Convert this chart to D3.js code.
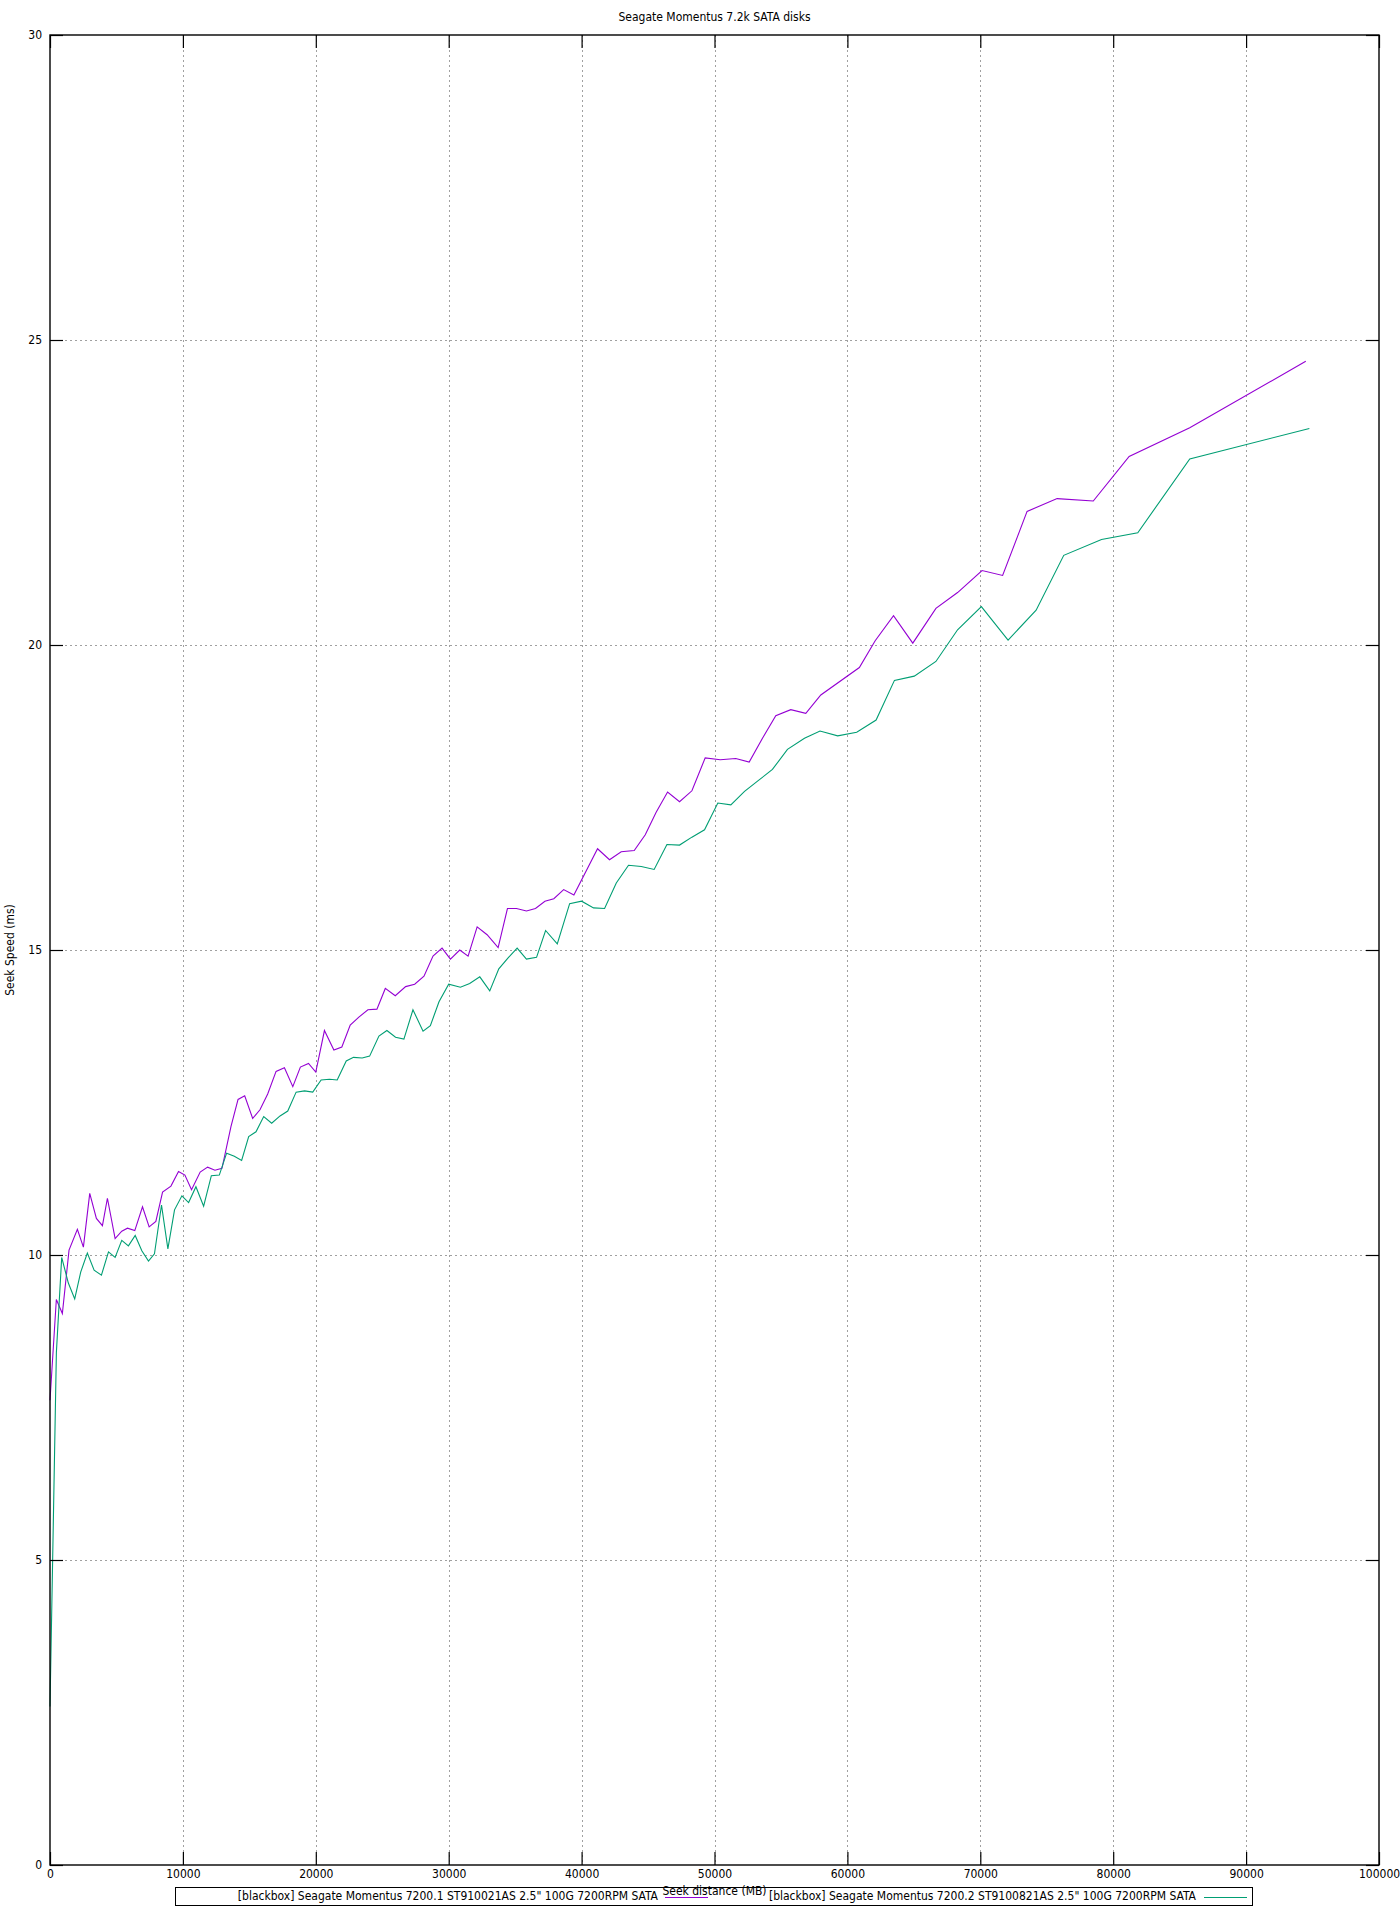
<!DOCTYPE html>
<html>
<head>
<meta charset="utf-8">
<script src="https://cdn.jsdelivr.net/npm/d3@7/dist/d3.min.js"></script>
<style>
  html, body { margin: 0; padding: 0; background: #fff; }
  svg { display: block; }
  text { font-family: "DejaVu Sans Condensed", "DejaVu Sans", sans-serif; fill: #000; }
</style>
</head>
<body>
<svg id="chart" width="1400" height="1920"></svg>
<script>
const title = "Seagate Momentus 7.2k SATA disks";
const xLabel = "Seek distance (MB)";
const yLabel = "Seek Speed (ms)";
const seriesNames = [
  '[blackbox] Seagate Momentus 7200.1 ST910021AS 2.5" 100G 7200RPM SATA',
  '[blackbox] Seagate Momentus 7200.2 ST9100821AS 2.5" 100G 7200RPM SATA'
];
const seriesColors = ["#9400d3", "#009e73"];
const xTicks = [0, 10000, 20000, 30000, 40000, 50000, 60000, 70000, 80000, 90000, 100000];
const yTicks = [0, 5, 10, 15, 20, 25, 30];

// Series 1: Momentus 7200.1 (seek distance MB, seek time ms)
const s1x = [0, 477, 930, 1432, 2060, 2513, 2990, 3490, 3945, 4320, 4900, 5400, 5830, 6380, 6960, 7460, 7965, 8470, 9100, 9670,
  10150, 10650, 11300, 11860, 12410, 12940, 13620, 14150, 14650, 15250, 15800, 16380, 17010, 17640, 18270, 18840, 19450, 20000,
  20650, 21360, 21960, 22590, 23240, 23920, 24600, 25230, 25980, 26760, 27440, 28140, 28820, 29500, 30130, 30830, 31460, 32140,
  32890, 33720, 34420, 35100, 35850, 36530, 37240, 37910, 38650, 39420, 41200, 42100, 42980, 43960, 44790, 45610, 46470, 47370,
  48300, 49300, 50430, 51600, 52610, 53610, 54610, 55740, 56870, 58000, 60900, 62090, 63470, 64920, 66660, 68290, 70130, 71680,
  73520, 75780, 78500, 81200, 85760, 94490];
const s1y = [7.62, 9.27, 9.04, 10.08, 10.42, 10.13, 11.01, 10.6, 10.48, 10.93, 10.27, 10.39, 10.44, 10.40, 10.79, 10.46, 10.55, 11.03, 11.13, 11.37,
  11.31, 11.07, 11.36, 11.44, 11.39, 11.42, 12.11, 12.55, 12.61, 12.24, 12.38, 12.64, 13.01, 13.07, 12.76, 13.08, 13.14, 13.0,
  13.68, 13.36, 13.41, 13.77, 13.90, 14.02, 14.03, 14.37, 14.25, 14.40, 14.44, 14.57, 14.90, 15.03, 14.85, 15.0, 14.90, 15.38,
  15.25, 15.04, 15.68, 15.68, 15.64, 15.68, 15.80, 15.84, 15.99, 15.90, 16.66, 16.48, 16.61, 16.63, 16.89, 17.26, 17.59, 17.43,
  17.61, 18.15, 18.12, 18.14, 18.08, 18.47, 18.84, 18.94, 18.88, 19.18, 19.63, 20.07, 20.48, 20.03, 20.60, 20.86, 21.22, 21.14,
  22.19, 22.40, 22.36, 23.09, 23.56, 24.65];

// Series 2: Momentus 7200.2
const s2x = [0, 480, 880, 1380, 1860, 2310, 2810, 3320, 3870, 4400, 4900, 5400, 5900, 6410, 6910, 7410, 7860, 8390, 8870, 9370,
  9925, 10430, 10980, 11560, 12140, 12740, 13290, 13870, 14420, 14950, 15500, 16080, 16680, 17310, 17890, 18520, 19150, 19770,
  20400, 21030, 21610, 22290, 22840, 23490, 24050, 24750, 25350, 26000, 26630, 27310, 28070, 28620, 29270, 30000, 30880, 31580,
  32340, 33090, 33770, 34470, 35150, 35850, 36610, 37290, 38170, 39100, 40000, 40900, 41730, 42610, 43530, 44490, 45460, 46420,
  47370, 48300, 49250, 50250, 51230, 52260, 53310, 54360, 55490, 56770, 57940, 59270, 60700, 62160, 63540, 65030, 66660, 68290,
  70080, 72090, 74200, 76280, 79120, 81850, 85760, 94760];
const s2y = [2.6, 8.4, 9.96, 9.54, 9.28, 9.72, 10.03, 9.75, 9.67, 10.05, 9.96, 10.24, 10.15, 10.32, 10.07, 9.90, 10.02, 10.82, 10.10, 10.74,
  10.97, 10.86, 11.12, 10.80, 11.30, 11.31, 11.67, 11.62, 11.55, 11.94, 12.02, 12.27, 12.16, 12.28, 12.36, 12.67, 12.69, 12.67,
  12.87, 12.88, 12.87, 13.18, 13.24, 13.23, 13.26, 13.59, 13.68, 13.57, 13.54, 14.02, 13.67, 13.76, 14.15, 14.44, 14.39, 14.45,
  14.56, 14.33, 14.69, 14.87, 15.03, 14.85, 14.88, 15.32, 15.10, 15.76, 15.80, 15.69, 15.68, 16.10, 16.39, 16.37, 16.32, 16.73,
  16.72, 16.85, 16.97, 17.41, 17.38, 17.60, 17.78, 17.96, 18.29, 18.47, 18.59, 18.51, 18.57, 18.77, 19.42, 19.49, 19.73, 20.25,
  20.63, 20.08, 20.57, 21.47, 21.73, 21.84, 23.05, 23.55];

const series = [
  { name: seriesNames[0], color: seriesColors[0], pts: s1x.map((x, i) => [x, s1y[i]]) },
  { name: seriesNames[1], color: seriesColors[1], pts: s2x.map((x, i) => [x, s2y[i]]) }
];

const L = 50, R = 1379, T = 35, B = 1865;
const fs = 12;
const svg = d3.select("#chart");
const x = d3.scaleLinear().domain([0, 100000]).range([L, R]);
const y = d3.scaleLinear().domain([0, 30]).range([B, T]);

// grid
const grid = svg.append("g").attr("stroke", "#a0a0a0").attr("stroke-width", 1).attr("stroke-dasharray", "2,3");
grid.selectAll(".gx").data(xTicks.slice(1, -1)).join("line")
  .attr("x1", d => Math.round(x(d)) + 0.5).attr("x2", d => Math.round(x(d)) + 0.5).attr("y1", T).attr("y2", B);
grid.selectAll(".gy").data(yTicks.slice(1, -1)).join("line")
  .attr("y1", d => Math.round(y(d)) + 0.5).attr("y2", d => Math.round(y(d)) + 0.5).attr("x1", L).attr("x2", R);

// series
const line = d3.line().x(d => x(d[0])).y(d => y(d[1]));
series.forEach(s => {
  svg.append("path").datum(s.pts).attr("d", line).attr("fill", "none")
    .attr("stroke", s.color).attr("stroke-width", 1.1).attr("stroke-linejoin", "miter");
});

// axes (gnuplot-like inward ticks, mirrored)
const tickLen = 13;
const axB = svg.append("g").attr("transform", `translate(0,${B})`)
  .call(d3.axisBottom(x).tickValues(xTicks).tickFormat(d3.format("d")).tickSizeInner(-tickLen).tickSizeOuter(0).tickPadding(4));
const axT = svg.append("g").attr("transform", `translate(0,${T})`)
  .call(d3.axisTop(x).tickValues(xTicks).tickFormat("").tickSizeInner(-tickLen).tickSizeOuter(0));
const axL = svg.append("g").attr("transform", `translate(${L},0)`)
  .call(d3.axisLeft(y).tickValues(yTicks).tickFormat(d3.format("d")).tickSizeInner(-tickLen).tickSizeOuter(0).tickPadding(8));
const axR = svg.append("g").attr("transform", `translate(${R},0)`)
  .call(d3.axisRight(y).tickValues(yTicks).tickFormat("").tickSizeInner(-tickLen).tickSizeOuter(0));
[axB, axT, axL, axR].forEach(a => {
  a.select(".domain").remove();
  a.selectAll(".tick line").attr("stroke", "#000").attr("stroke-width", 1.2);
  a.selectAll("text").attr("font-size", fs).attr("font-family", null);
});

// border
svg.append("rect").attr("x", L).attr("y", T).attr("width", R - L).attr("height", B - T)
  .attr("fill", "none").attr("stroke", "#000").attr("stroke-width", 1.4);

// title and labels
svg.append("text").attr("x", (L + R) / 2).attr("y", 21).attr("text-anchor", "middle").attr("font-size", fs).text(title);
svg.append("text").attr("transform", `translate(14,${(T + B) / 2}) rotate(-90)`).attr("text-anchor", "middle")
  .attr("font-size", fs).text(yLabel);

// legend
const lg = svg.append("g");
lg.append("rect").attr("x", 175.5).attr("y", 1887.5).attr("width", 1077).attr("height", 18)
  .attr("fill", "none").attr("stroke", "#000").attr("stroke-width", 1);
const legendItems = [
  { textEnd: 658, sx1: 665, sx2: 708 },
  { textEnd: 1196, sx1: 1204, sx2: 1247 }
];
series.forEach((s, i) => {
  const it = legendItems[i];
  lg.append("text").attr("x", it.textEnd).attr("y", 1900).attr("text-anchor", "end").attr("font-size", fs).text(s.name);
  lg.append("line").attr("x1", it.sx1).attr("x2", it.sx2).attr("y1", 1897.5).attr("y2", 1897.5)
    .attr("stroke", s.color).attr("stroke-width", 1.2);
});
svg.append("text").attr("x", (L + R) / 2).attr("y", 1895).attr("text-anchor", "middle").attr("font-size", fs).text(xLabel);
</script>
</body>
</html>
